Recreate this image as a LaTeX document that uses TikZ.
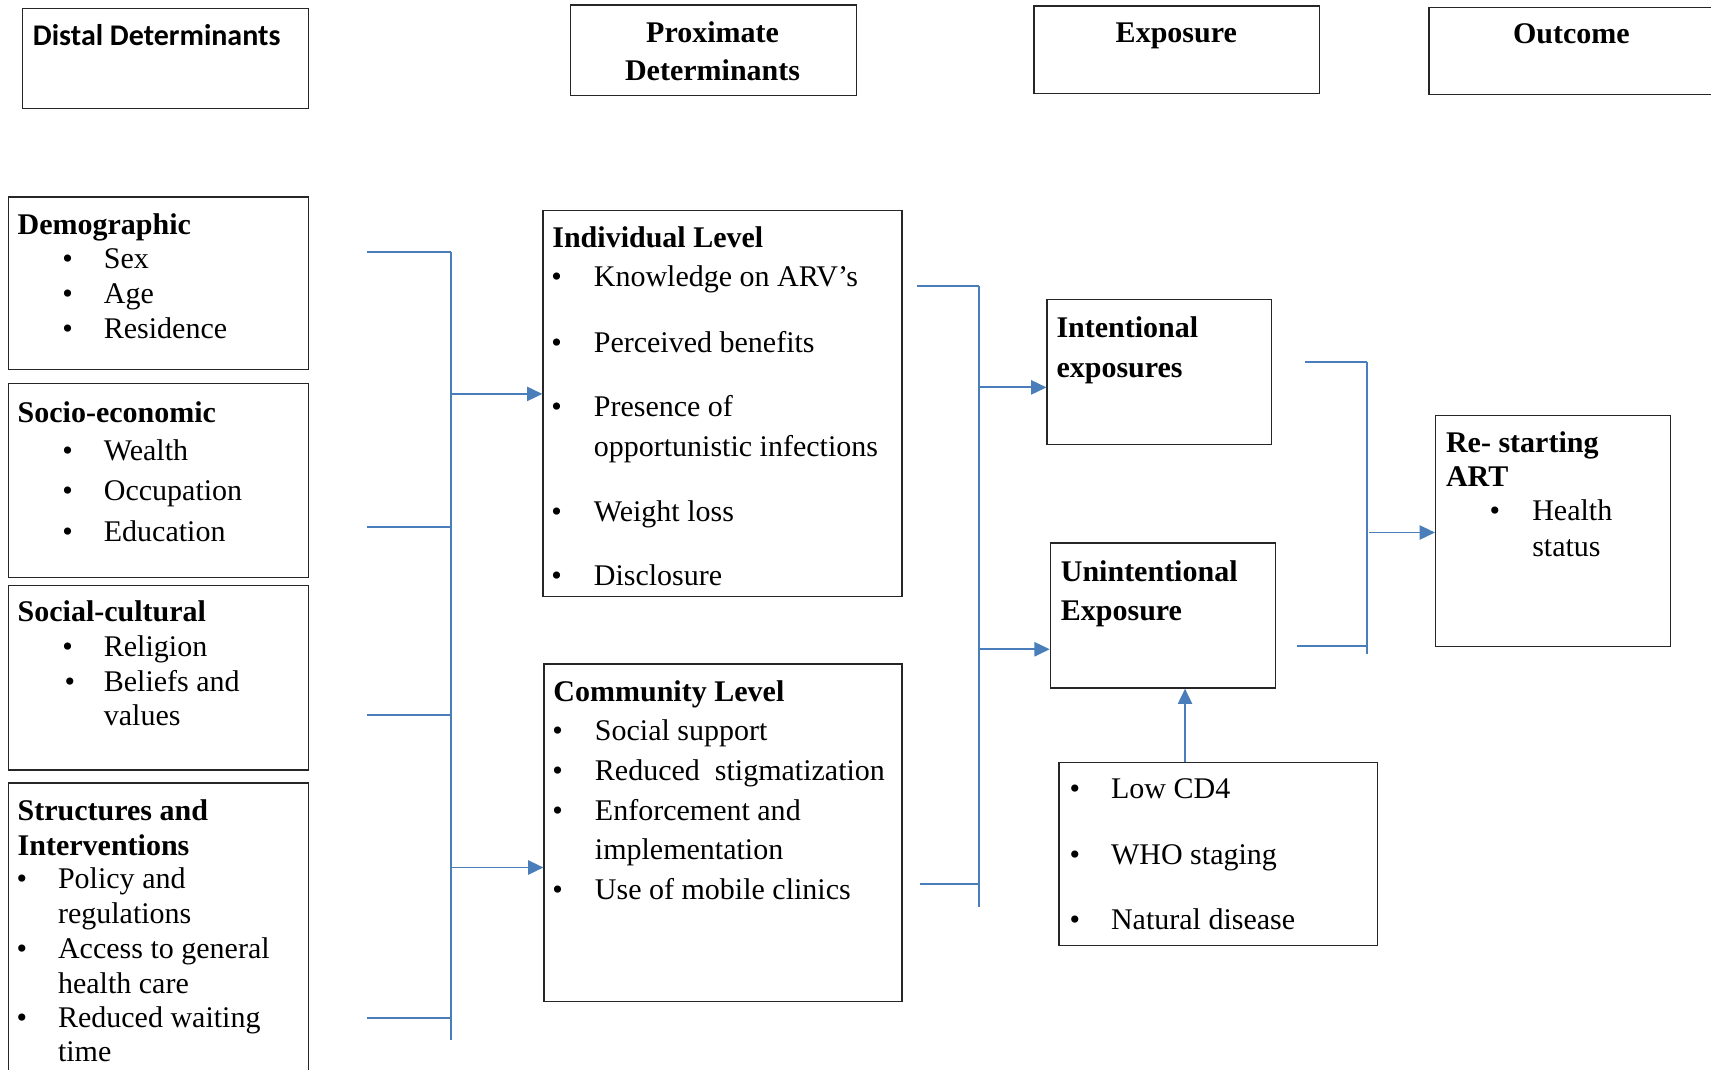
\documentclass[tikz,border=0pt]{standalone}
\usepackage{fontspec}
\setmainfont{Liberation Serif}
\newfontfamily\calfont{Carlito}
\usetikzlibrary{arrows.meta}
\definecolor{lineblue}{RGB}{74,126,187}
\begin{document}
\begin{tikzpicture}[x=1pt,y=-1pt,
  box/.style={draw=black!85,line width=1.1pt,anchor=north west,inner sep=0pt},
  txt/.style={anchor=base west,inner sep=0pt,font=\fontsize{27.5}{32}\selectfont},
  hd/.style={anchor=base west,inner sep=0pt,font=\fontsize{27.5}{32}\selectfont\bfseries},
  hdc/.style={anchor=base,inner sep=0pt,font=\fontsize{27.5}{32}\selectfont\bfseries},
  bul/.style={anchor=base,inner sep=0pt,font=\fontsize{27.5}{32}\selectfont},
  conn/.style={draw=lineblue,line width=1.7pt},
  arr/.style={conn,-{Triangle[length=14pt,width=13pt]}}]
\useasboundingbox (0,0) rectangle (1568,980);

% header boxes
\node[box,minimum width=262pt,minimum height=92pt] (hdist) at (20,7) {};
\node[anchor=base west,inner sep=0pt,font=\fontsize{27.5}{32}\selectfont\calfont\bfseries] (tdist) at (30,42) {Distal Determinants};
\node[box,minimum width=262pt,minimum height=83pt] (hprox) at (522,4) {};
\node[hdc] (tprox1) at (653,39) {Proximate};
\node[hdc] (tprox2) at (653,74) {Determinants};
\node[box,minimum width=262pt,minimum height=80pt] (hexp) at (947,5) {};
\node[hdc] (texp) at (1078,39) {Exposure};
\node[box,minimum width=275pt,minimum height=80pt] (hout) at (1309,6) {};
\node[hdc] (tout) at (1440,40) {Outcome};

% distal boxes
\node[box,minimum width=275pt,minimum height=158pt] (demo) at (7,180) {};
\node[hd] (demoh) at (16,215) {Demographic};
\node[bul] (b11) at (62,246) {•}; \node[txt] (t11) at (95,246) {Sex};
\node[bul] (b12) at (62,278) {•}; \node[txt] (t12) at (95,278) {Age};
\node[bul] (b13) at (62,310) {•}; \node[txt] (t13) at (95,310) {Residence};

\node[box,minimum width=275pt,minimum height=178pt] (socio) at (7,351) {};
\node[hd] (socioh) at (16,387) {Socio-economic};
\node[bul] (b21) at (62,422) {•}; \node[txt] (t21) at (95,422) {Wealth};
\node[bul] (b22) at (62,459) {•}; \node[txt] (t22) at (95,459) {Occupation};
\node[bul] (b23) at (62,496) {•}; \node[txt] (t23) at (95,496) {Education};

\node[box,minimum width=275pt,minimum height=169pt] (cult) at (7,536) {};
\node[hd] (culth) at (16,570) {Social-cultural};
\node[bul] (b31) at (62,602) {•}; \node[txt] (t31) at (95,602) {Religion};
\node[bul] (b32) at (64,634) {•}; \node[txt] (t32) at (95,634) {Beliefs and};
\node[txt] (t33) at (95,665) {values};

\node[box,minimum width=275pt,minimum height=280pt] (struct) at (7,717) {};
\node[hd] (structh1) at (16,752) {Structures and};
\node[hd] (structh2) at (16,784) {Interventions};
\node[bul] (b41) at (20,814) {•}; \node[txt] (t41) at (53,814) {Policy and};
\node[txt] (t42) at (53,846) {regulations};
\node[bul] (b43) at (20,878) {•}; \node[txt] (t43) at (53,878) {Access to general};
\node[txt] (t44) at (53,910) {health care};
\node[bul] (b45) at (20,942) {•}; \node[txt] (t45) at (53,942) {Reduced waiting};
\node[txt] (t46) at (53,973) {time};

% proximate boxes
\node[box,minimum width=329pt,minimum height=354pt] (indiv) at (497,192) {};
\node[hd] (indivh) at (506,227) {Individual Level};
\node[bul] (b51) at (510,263) {•}; \node[txt] (t51) at (544,263) {Knowledge on ARV’s};
\node[bul] (b52) at (510,323) {•}; \node[txt] (t52) at (544,323) {Perceived benefits};
\node[bul] (b53) at (510,382) {•}; \node[txt] (t53) at (544,382) {Presence of};
\node[txt] (t54) at (544,418) {opportunistic infections};
\node[bul] (b55) at (510,478) {•}; \node[txt] (t55) at (544,478) {Weight loss};
\node[bul] (b56) at (510,537) {•}; \node[txt] (t56) at (544,537) {Disclosure};

\node[box,minimum width=328pt,minimum height=309pt] (comm) at (498,608) {};
\node[hd] (commh) at (507,643) {Community Level};
\node[bul] (b61) at (511,679) {•}; \node[txt] (t61) at (545,679) {Social support};
\node[bul] (b62) at (511,715) {•}; \node[txt] (t62) at (545,715) {Reduced\ \ stigmatization};
\node[bul] (b63) at (511,752) {•}; \node[txt] (t63) at (545,752) {Enforcement and};
\node[txt] (t64) at (545,788) {implementation};
\node[bul] (b65) at (511,824) {•}; \node[txt] (t65) at (545,824) {Use of mobile clinics};

% exposure boxes
\node[box,minimum width=206pt,minimum height=133pt] (inten) at (959,274) {};
\node[hd] (intenh1) at (968,309) {Intentional};
\node[hd] (intenh2) at (968,346) {exposures};
\node[box,minimum width=206pt,minimum height=133pt] (unint) at (962,497) {};
\node[hd] (uninth1) at (972,533) {Unintentional};
\node[hd] (uninth2) at (972,569) {Exposure};
\node[box,minimum width=292pt,minimum height=168pt] (clin) at (970,698) {};
\node[bul] (b71) at (985,732) {•}; \node[txt] (t71) at (1018,732) {Low CD4};
\node[bul] (b72) at (985,792) {•}; \node[txt] (t72) at (1018,792) {WHO staging};
\node[bul] (b73) at (985,852) {•}; \node[txt] (t73) at (1018,852) {Natural disease};

% outcome box
\node[box,minimum width=215pt,minimum height=212pt] (art) at (1315,380) {};
\node[hd] (arth1) at (1325,415) {Re- starting};
\node[hd] (arth2) at (1325,446) {ART};
\node[bul] (b81) at (1370,477) {•}; \node[txt] (t81) at (1404,477) {Health};
\node[txt] (t82) at (1404,510) {status};

% left connectors
\coordinate (l1) at (336,231); \coordinate (l2) at (336,483);
\coordinate (l3) at (336,655); \coordinate (l4) at (336,933);
\coordinate (lv1) at (413,231); \coordinate (lv2) at (413,953);
\coordinate (la1) at (413,361); \coordinate (la2) at (413,795);
\draw[conn] (l1) -- (l1 -| lv1);
\draw[conn] (l2) -- (l2 -| lv1);
\draw[conn] (l3) -- (l3 -| lv1);
\draw[conn] (l4) -- (l4 -| lv1);
\draw[conn] (lv1) -- (lv2);
\draw[arr] (la1) -- (la1 -| indiv.west);
\draw[arr] (la2) -- (la2 -| comm.west);

% middle connectors
\coordinate (m1) at (840,262); \coordinate (m2) at (843,810);
\coordinate (mv1) at (897,262); \coordinate (mv2) at (897,831);
\coordinate (ma1) at (897,355); \coordinate (ma2) at (897,595);
\draw[conn] (m1) -- (m1 -| mv1);
\draw[conn] (m2) -- (m2 -| mv1);
\draw[conn] (mv1) -- (mv2);
\draw[arr] (ma1) -- (ma1 -| inten.west);
\draw[arr] (ma2) -- (ma2 -| unint.west);

% clinical to unintentional
\coordinate (cu) at (1086,698);
\draw[arr] (cu) -- (cu |- unint.south);

% right connectors
\coordinate (r1) at (1196,332); \coordinate (r2) at (1189,592);
\coordinate (rv1) at (1253,332); \coordinate (rv2) at (1253,599);
\coordinate (ra) at (1255,488);
\draw[conn] (r1) -- (r1 -| rv1);
\draw[conn] (r2) -- (r2 -| rv1);
\draw[conn] (rv1) -- (rv2);
\draw[arr] (ra) -- (ra -| art.west);
\end{tikzpicture}
\end{document}
